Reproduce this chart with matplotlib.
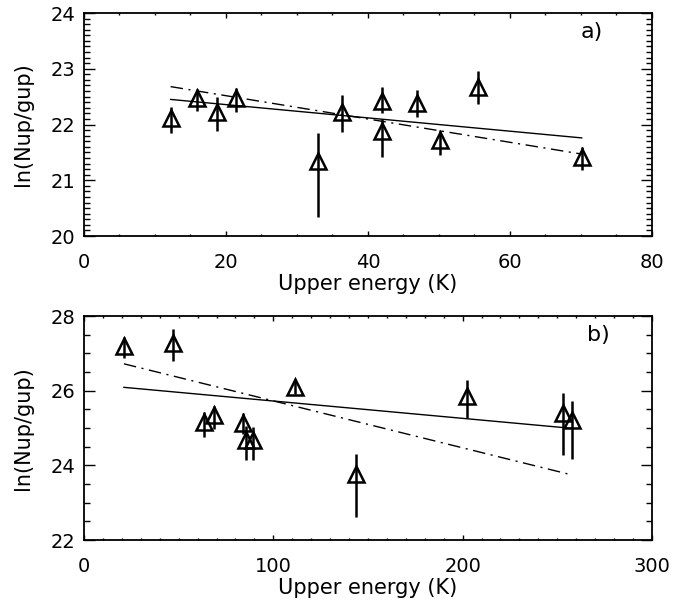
import matplotlib
matplotlib.use('Agg')
import matplotlib.pyplot as plt
from matplotlib.ticker import MultipleLocator

# ---------------- data: panel a ----------------
a_x = [12.2, 15.9, 18.7, 21.4, 33.0, 36.3, 42.0, 42.0, 46.9, 50.1, 55.5, 70.1]
a_y = [22.12, 22.48, 22.22, 22.48, 21.35, 22.22, 22.42, 21.89, 22.38, 21.73, 22.68, 21.41]
a_hi = [22.32, 22.64, 22.50, 22.66, 21.85, 22.53, 22.68, 22.10, 22.62, 21.91, 22.96, 21.60]
a_lo = [21.84, 22.25, 21.88, 22.23, 20.35, 21.87, 22.20, 21.41, 22.13, 21.45, 22.37, 21.18]
a_fit_x = [12.2, 70.1]
a_fit_solid = [22.45, 21.76]
a_fit_dashdot = [22.68, 21.47]

# ---------------- data: panel b ----------------
b_x = [21.1, 46.8, 63.4, 68.8, 84.2, 85.6, 89.1, 111.3, 143.6, 202.3, 253.2, 258.0]
b_y = [27.19, 27.27, 25.15, 25.36, 25.13, 24.69, 24.69, 26.09, 23.77, 25.87, 25.40, 25.21]
b_hi = [27.44, 27.64, 25.44, 25.59, 25.40, 25.05, 25.04, 26.32, 24.31, 26.30, 25.93, 25.73]
b_lo = [26.87, 26.80, 24.75, 24.97, 24.85, 24.14, 24.14, 25.90, 22.63, 25.27, 24.28, 24.17]
b_fit_x = [21.1, 258.0]
b_fit_solid = [26.09, 24.99]
b_fit_dashdot = [26.72, 23.74]

xlabel = "Upper energy (K)"
ylabel = "ln(Nup/gup)"

plt.rcParams['font.family'] = ['DejaVu Sans']

fig = plt.figure(figsize=(6.74, 6.08), dpi=100)
ax_a = fig.add_axes([0.1246, 0.6118, 0.8427, 0.3668])
ax_b = fig.add_axes([0.1246, 0.1118, 0.8427, 0.3684])


def draw(ax, x, y, hi, lo, fx, fs, fd, xlim, ylim, xmaj, xmin, ymaj, ymin, tag, tagpos):
    lower = [yy - l for yy, l in zip(y, lo)]
    upper = [h - yy for yy, h in zip(y, hi)]
    ax.errorbar(x, y, yerr=[lower, upper], fmt='none', ecolor='black',
                elinewidth=1.8, capsize=0, zorder=3)
    ax.plot(x, y, linestyle='none', marker='^', markersize=11.5,
            markerfacecolor='none', markeredgecolor='black',
            markeredgewidth=1.8, zorder=4)
    ax.plot(fx, fs, color='black', linewidth=1.0, zorder=2)
    ax.plot(fx, fd, color='black', linewidth=1.0, dashes=[9, 4, 1.5, 4], zorder=2)
    ax.set_xlim(*xlim)
    ax.set_ylim(*ylim)
    ax.xaxis.set_major_locator(MultipleLocator(xmaj))
    ax.xaxis.set_minor_locator(MultipleLocator(xmin))
    ax.yaxis.set_major_locator(MultipleLocator(ymaj))
    ax.yaxis.set_minor_locator(MultipleLocator(ymin))
    ax.tick_params(axis='x', which='major', direction='in', length=3.3, width=1.0,
                   top=True, bottom=True, labelsize=14, pad=12)
    ax.tick_params(axis='x', which='minor', direction='in', length=1.7, width=1.0,
                   top=True, bottom=True)
    ax.tick_params(axis='y', which='major', direction='in', length=8, width=1.0,
                   left=True, right=True, labelsize=14, pad=6)
    ax.tick_params(axis='y', which='minor', direction='in', length=4.2, width=1.0,
                   left=True, right=True)
    for s in ax.spines.values():
        s.set_linewidth(1.3)
    ax.set_xlabel(xlabel, fontsize=15, labelpad=2)
    ax.set_ylabel(ylabel, fontsize=15, labelpad=13)
    ax.text(tagpos[0], tagpos[1], tag, fontsize=16, ha='center', va='center')


draw(ax_a, a_x, a_y, a_hi, a_lo, a_fit_x, a_fit_solid, a_fit_dashdot,
     (0, 80), (20, 24), 20, 5, 1, 0.1, 'a)', (71.5, 23.66))
draw(ax_b, b_x, b_y, b_hi, b_lo, b_fit_x, b_fit_solid, b_fit_dashdot,
     (0, 300), (22, 28), 100, 10, 2, 0.5, 'b)', (271.5, 27.49))

fig.savefig('out.png', dpi=100)
